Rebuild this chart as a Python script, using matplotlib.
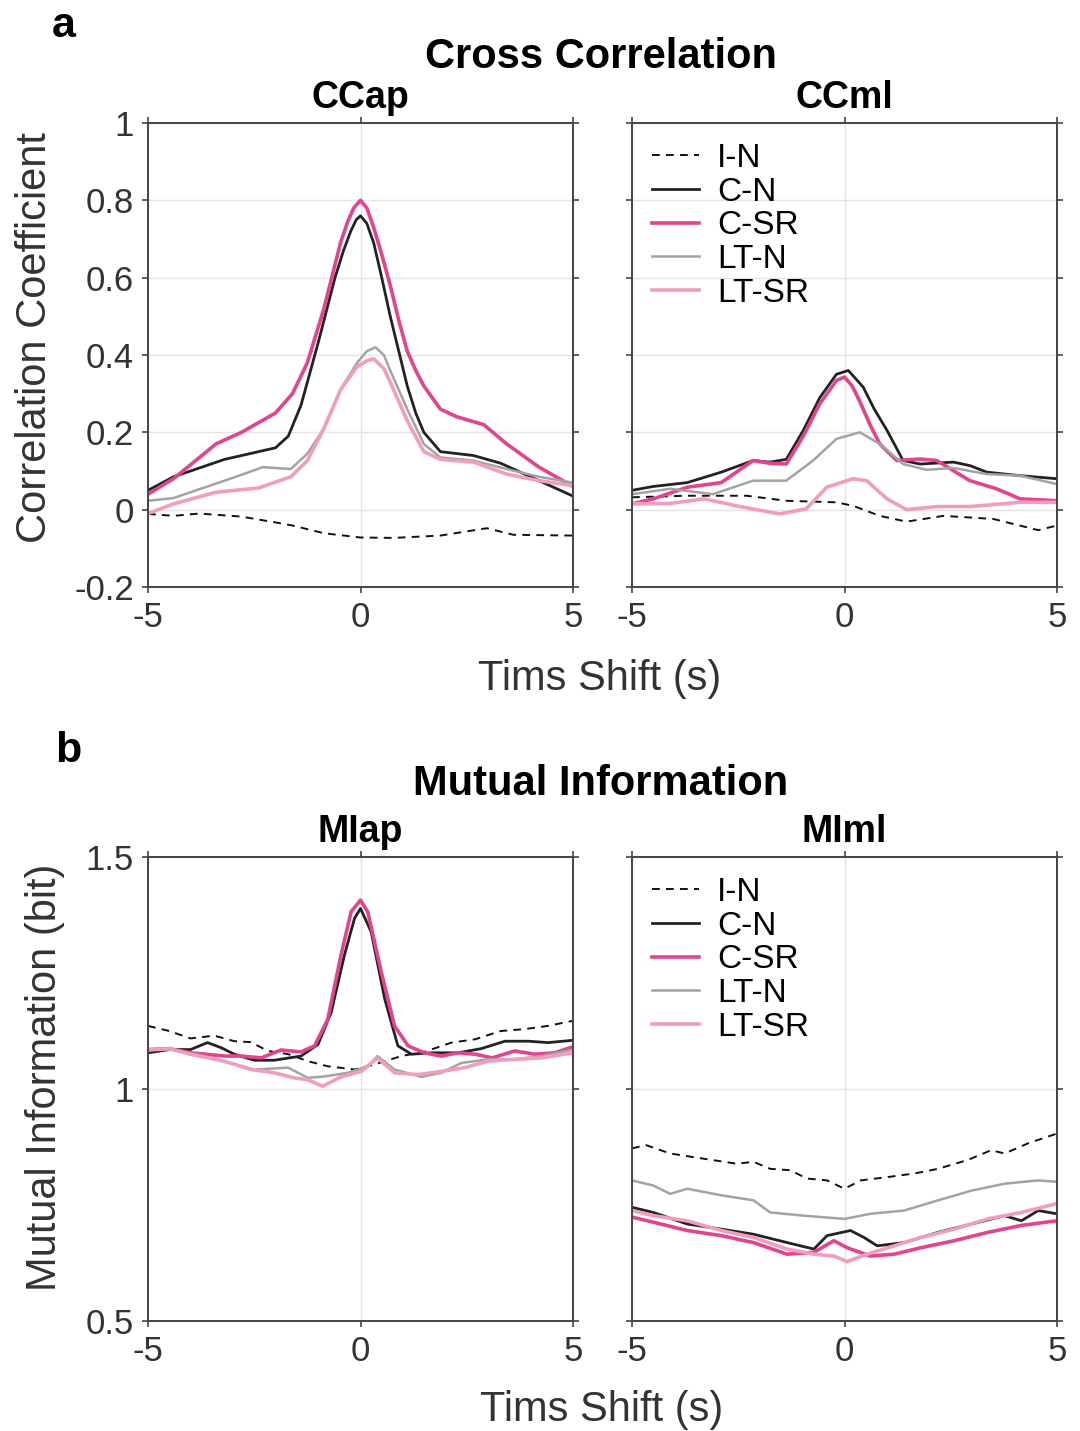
import numpy as np
import matplotlib
matplotlib.use("Agg")
import matplotlib.pyplot as plt

plt.rcParams['font.family'] = ['Liberation Sans', 'DejaVu Sans']

# ---- data ----
labels = ['I-N', 'C-N', 'C-SR', 'LT-N', 'LT-SR']
colors = ['#111111', '#222222', '#e3448c', '#a3a3a3', '#f19dc0']
widths = [1.4, 2.0, 2.6, 1.8, 2.6]
styles = ['--', '-', '-', '-', '-']

# CCap
ccap_in_x = [-5, -4.4, -3.8, -2.8, -2.0, -1.6, -0.86, 0, 0.78, 1.88, 2.97, 3.6, 5]
ccap_in_y = [-0.011, -0.016, -0.01, -0.018, -0.033, -0.041, -0.061, -0.072, -0.073, -0.067, -0.048, -0.065, -0.067]
ccap_cn_x = [-5, -4.4, -3.2, -2.4, -2.0, -1.7, -1.4, -1.0, -0.6, -0.4, -0.23, -0.1, 0, 0.15, 0.31, 0.5, 0.7, 0.9, 1.1, 1.3, 1.49, 1.88, 2.66, 3.3, 4.2, 5]
ccap_cn_y = [0.05, 0.085, 0.13, 0.15, 0.16, 0.19, 0.27, 0.43, 0.60, 0.67, 0.72, 0.75, 0.76, 0.74, 0.69, 0.60, 0.50, 0.41, 0.32, 0.25, 0.20, 0.15, 0.14, 0.12, 0.075, 0.035]
ccap_csr_x = [-5, -4.4, -3.4, -2.8, -2.0, -1.6, -1.25, -0.86, -0.47, -0.3, -0.16, 0, 0.15, 0.31, 0.5, 0.7, 0.9, 1.1, 1.3, 1.49, 1.88, 2.27, 2.9, 3.44, 4.2, 5]
ccap_csr_y = [0.04, 0.08, 0.17, 0.20, 0.25, 0.30, 0.38, 0.52, 0.69, 0.745, 0.78, 0.80, 0.78, 0.73, 0.66, 0.58, 0.49, 0.41, 0.36, 0.32, 0.26, 0.24, 0.22, 0.17, 0.11, 0.06]
ccap_ltn_x = [-5, -4.4, -3.6, -2.8, -2.3, -1.64, -1.25, -0.86, -0.47, -0.08, 0.15, 0.35, 0.55, 0.7, 1.1, 1.49, 1.88, 2.66, 3.44, 4.2, 5]
ccap_ltn_y = [0.023, 0.03, 0.06, 0.09, 0.11, 0.105, 0.145, 0.21, 0.31, 0.38, 0.41, 0.42, 0.40, 0.36, 0.26, 0.17, 0.135, 0.127, 0.105, 0.085, 0.07]
ccap_ltsr_x = [-5, -4.4, -3.4, -2.4, -1.64, -1.25, -0.86, -0.47, -0.08, 0.15, 0.31, 0.55, 0.7, 1.1, 1.49, 1.88, 2.66, 3.44, 4.2, 5]
ccap_ltsr_y = [-0.01, 0.015, 0.045, 0.056, 0.085, 0.127, 0.21, 0.31, 0.37, 0.385, 0.39, 0.365, 0.33, 0.23, 0.15, 0.13, 0.123, 0.092, 0.075, 0.062]

# CCml
ccml_in_x = [-5, -3.7, -2.3, -1.37, -0.19, 0.2, 0.83, 1.46, 2.33, 3.5, 4.56, 5]
ccml_in_y = [0.032, 0.036, 0.036, 0.023, 0.019, 0.01, -0.016, -0.031, -0.016, -0.024, -0.053, -0.041]
ccml_cn_x = [-5, -4.5, -3.7, -2.9, -2.15, -1.76, -1.37, -0.97, -0.58, -0.19, 0.09, 0.44, 0.7, 1.0, 1.38, 1.78, 2.56, 2.95, 3.35, 4.13, 5]
ccml_cn_y = [0.05, 0.06, 0.07, 0.097, 0.127, 0.123, 0.13, 0.205, 0.29, 0.35, 0.36, 0.317, 0.26, 0.205, 0.127, 0.118, 0.123, 0.114, 0.097, 0.088, 0.08]
ccml_csr_x = [-5, -4.5, -3.7, -2.9, -2.15, -1.76, -1.37, -0.97, -0.58, -0.19, 0, 0.18, 0.36, 0.6, 0.83, 1.23, 1.78, 2.17, 2.95, 3.58, 4.13, 5]
ccml_csr_y = [0.015, 0.028, 0.058, 0.07, 0.127, 0.12, 0.118, 0.19, 0.274, 0.334, 0.343, 0.32, 0.28, 0.22, 0.17, 0.127, 0.131, 0.127, 0.075, 0.054, 0.028, 0.023]
ccml_ltn_x = [-5, -4.1, -3.1, -2.15, -1.37, -0.74, -0.19, 0.36, 0.83, 1.38, 1.93, 2.56, 3.35, 4.13, 5]
ccml_ltn_y = [0.04, 0.054, 0.04, 0.075, 0.075, 0.127, 0.183, 0.2, 0.17, 0.118, 0.103, 0.108, 0.092, 0.088, 0.066]
ccml_ltsr_x = [-5, -4.1, -3.3, -2.55, -1.53, -0.9, -0.42, 0.2, 0.52, 1.0, 1.46, 2.17, 2.95, 4.13, 5]
ccml_ltsr_y = [0.015, 0.016, 0.028, 0.01, -0.011, 0.002, 0.058, 0.08, 0.075, 0.028, 0.0, 0.008, 0.008, 0.019, 0.019]

# MIap
miap_in_x = [-5, -4.5, -4.0, -3.44, -2.97, -2.58, -2.18, -1.7, -1.24, -0.77, -0.14, 0.33, 0.96, 1.5, 2.14, 2.69, 3.3, 3.86, 4.41, 5]
miap_in_y = [1.136, 1.125, 1.109, 1.115, 1.103, 1.101, 1.082, 1.075, 1.06, 1.049, 1.042, 1.053, 1.071, 1.08, 1.1, 1.107, 1.125, 1.129, 1.136, 1.147]
miap_cn_x = [-5, -4.5, -4.0, -3.6, -3.28, -2.97, -2.5, -2.03, -1.4, -1.0, -0.69, -0.38, -0.14, 0, 0.25, 0.57, 0.88, 1.2, 1.67, 2.3, 2.84, 3.4, 3.95, 4.41, 5]
miap_cn_y = [1.078, 1.085, 1.085, 1.1, 1.089, 1.075, 1.062, 1.062, 1.071, 1.096, 1.165, 1.288, 1.368, 1.389, 1.339, 1.194, 1.093, 1.075, 1.078, 1.078, 1.087, 1.103, 1.103, 1.1, 1.105]
miap_csr_x = [-5, -4.5, -4.0, -3.2, -2.8, -2.34, -1.87, -1.4, -1.08, -0.77, -0.46, -0.22, 0, 0.17, 0.49, 0.8, 1.12, 1.5, 1.9, 2.3, 2.7, 3.1, 3.63, 4.1, 4.57, 5]
miap_csr_y = [1.085, 1.087, 1.078, 1.071, 1.071, 1.067, 1.084, 1.08, 1.093, 1.15, 1.288, 1.382, 1.407, 1.382, 1.252, 1.136, 1.093, 1.078, 1.071, 1.078, 1.075, 1.067, 1.082, 1.075, 1.078, 1.091]
miap_ltn_x = [-5, -4.4, -3.75, -3.1, -2.5, -1.7, -1.24, -0.85, -0.3, 0.17, 0.4, 0.8, 1.43, 1.9, 2.37, 3.0, 3.63, 4.26, 5]
miap_ltn_y = [1.085, 1.085, 1.072, 1.056, 1.042, 1.046, 1.024, 1.027, 1.035, 1.049, 1.071, 1.042, 1.026, 1.035, 1.056, 1.064, 1.064, 1.071, 1.085]
miap_ltsr_x = [-5, -4.5, -4.0, -3.2, -2.58, -2.03, -1.56, -1.24, -0.89, -0.46, 0.02, 0.4, 0.8, 1.35, 1.9, 2.45, 3.0, 3.63, 4.26, 5]
miap_ltsr_y = [1.084, 1.087, 1.075, 1.06, 1.042, 1.035, 1.024, 1.02, 1.006, 1.026, 1.038, 1.067, 1.035, 1.031, 1.038, 1.046, 1.06, 1.064, 1.067, 1.078]

# MIml
miml_in_x = [-5, -4.67, -4.1, -3.33, -2.54, -2.14, -1.75, -1.28, -0.88, -0.41, 0, 0.38, 1.0, 1.65, 2.2, 2.9, 3.45, 3.77, 4.32, 5]
miml_in_y = [0.872, 0.879, 0.861, 0.85, 0.839, 0.843, 0.828, 0.825, 0.807, 0.803, 0.785, 0.803, 0.81, 0.818, 0.828, 0.847, 0.868, 0.861, 0.883, 0.904]
miml_cn_x = [-5, -4.5, -3.7, -2.9, -2.14, -1.35, -0.72, -0.41, 0.14, 0.46, 0.77, 1.4, 2.2, 2.99, 3.77, 4.16, 4.56, 5]
miml_cn_y = [0.745, 0.734, 0.709, 0.698, 0.687, 0.669, 0.655, 0.684, 0.695, 0.68, 0.662, 0.669, 0.691, 0.709, 0.727, 0.716, 0.738, 0.731]
miml_csr_x = [-5, -4.5, -3.7, -2.9, -2.14, -1.35, -0.72, -0.25, 0.06, 0.61, 1.17, 1.8, 2.58, 3.37, 4.16, 5]
miml_csr_y = [0.724, 0.713, 0.695, 0.684, 0.669, 0.644, 0.648, 0.673, 0.658, 0.64, 0.644, 0.658, 0.673, 0.691, 0.706, 0.716]
miml_ltn_x = [-5, -4.5, -4.1, -3.7, -2.9, -2.14, -1.75, -0.96, 0, 0.61, 1.4, 2.2, 2.99, 3.77, 4.56, 5]
miml_ltn_y = [0.803, 0.792, 0.774, 0.785, 0.771, 0.76, 0.734, 0.727, 0.72, 0.731, 0.738, 0.76, 0.781, 0.796, 0.803, 0.8]
miml_ltsr_x = [-5, -4.5, -3.7, -2.9, -2.14, -1.35, -0.72, -0.25, 0.06, 0.53, 1.17, 1.8, 2.58, 3.37, 4.16, 5]
miml_ltsr_y = [0.738, 0.727, 0.716, 0.695, 0.68, 0.655, 0.644, 0.64, 0.628, 0.644, 0.662, 0.68, 0.698, 0.72, 0.734, 0.753]

panels = [
    ('CCap', [(ccap_in_x, ccap_in_y), (ccap_cn_x, ccap_cn_y), (ccap_csr_x, ccap_csr_y), (ccap_ltn_x, ccap_ltn_y), (ccap_ltsr_x, ccap_ltsr_y)]),
    ('CCml', [(ccml_in_x, ccml_in_y), (ccml_cn_x, ccml_cn_y), (ccml_csr_x, ccml_csr_y), (ccml_ltn_x, ccml_ltn_y), (ccml_ltsr_x, ccml_ltsr_y)]),
    ('MIap', [(miap_in_x, miap_in_y), (miap_cn_x, miap_cn_y), (miap_csr_x, miap_csr_y), (miap_ltn_x, miap_ltn_y), (miap_ltsr_x, miap_ltsr_y)]),
    ('MIml', [(miml_in_x, miml_in_y), (miml_cn_x, miml_cn_y), (miml_csr_x, miml_csr_y), (miml_ltn_x, miml_ltn_y), (miml_ltsr_x, miml_ltsr_y)]),
]

W, H = 1080, 1431
fig = plt.figure(figsize=(W / 100, H / 100), dpi=100)

def px_axes(x0, x1, ytop, ybot):
    return fig.add_axes([x0 / W, 1 - ybot / H, (x1 - x0) / W, (ybot - ytop) / H])

axes = [px_axes(148, 573, 123, 587), px_axes(632, 1057, 123, 587),
        px_axes(148, 573, 857, 1321), px_axes(632, 1057, 857, 1321)]

tick_col = '#333333'
for i, (ax, (name, series)) in enumerate(zip(axes, panels)):
    for (x, y), lab, c, lw, ls in zip(series, labels, colors, widths, styles):
        ax.plot(x, y, color=c, lw=lw, ls=ls, label=lab, solid_joinstyle='round',
                dashes=(4, 3.2) if ls == '--' else (None, None))
    ax.set_xlim(-5, 5)
    ax.set_xticks([-5, 0, 5])
    ax.set_xticklabels(['-5', '0', '5'])
    if i < 2:
        ax.set_ylim(-0.2, 1)
        ax.set_yticks([-0.2, 0, 0.2, 0.4, 0.6, 0.8, 1])
        ax.set_yticklabels(['-0.2', '0', '0.2', '0.4', '0.6', '0.8', '1'])
    else:
        ax.set_ylim(0.5, 1.5)
        ax.set_yticks([0.5, 1, 1.5])
        ax.set_yticklabels(['0.5', '1', '1.5'])
    ax.grid(True, color='#e4e4e4', lw=1.0)
    ax.set_axisbelow(True)
    for sp in ax.spines.values():
        sp.set_color('#444444')
        sp.set_linewidth(1.4)
    ax.tick_params(direction='out', length=4, width=1.2, color='#444444',
                   labelsize=25, labelcolor=tick_col, pad=6,
                   top=True, right=True)
    if i % 2 == 1:
        ax.tick_params(labelleft=False)
        ax.legend(loc='upper left', frameon=False, fontsize=24,
                  handlelength=1.4, handletextpad=0.55, labelspacing=0.08,
                  borderaxespad=0.2, bbox_to_anchor=(0.0, 1.0))
    ax.text(0.5, 1.033, name, transform=ax.transAxes, ha='center', va='baseline',
            fontsize=27, fontweight='bold')

fig.text(601 / W, 1 - 68 / H, 'Cross Correlation', ha='center', va='baseline', fontsize=30, fontweight='bold')
fig.text(601 / W, 1 - 795 / H, 'Mutual Information', ha='center', va='baseline', fontsize=30, fontweight='bold')
fig.text(52 / W, 1 - 37 / H, 'a', ha='left', va='baseline', fontsize=31, fontweight='bold')
fig.text(55 / W, 1 - 762 / H, 'b', ha='left', va='baseline', fontsize=31, fontweight='bold')

fig.text(600 / W, 1 - 690 / H, 'Tims Shift (s)', ha='center', va='baseline', fontsize=30, color=tick_col)
fig.text(602 / W, 1 - 1421 / H, 'Tims Shift (s)', ha='center', va='baseline', fontsize=30, color=tick_col)
fig.text(35 / W, 1 - 338 / H, 'Correlation Coefficient', ha='center', va='center', rotation=90, fontsize=30, color=tick_col)
fig.text(45 / W, 1 - 1077 / H, 'Mutual Information (bit)', ha='center', va='center', rotation=90, fontsize=30, color=tick_col)

fig.savefig('out.png', dpi=100, facecolor='white')
